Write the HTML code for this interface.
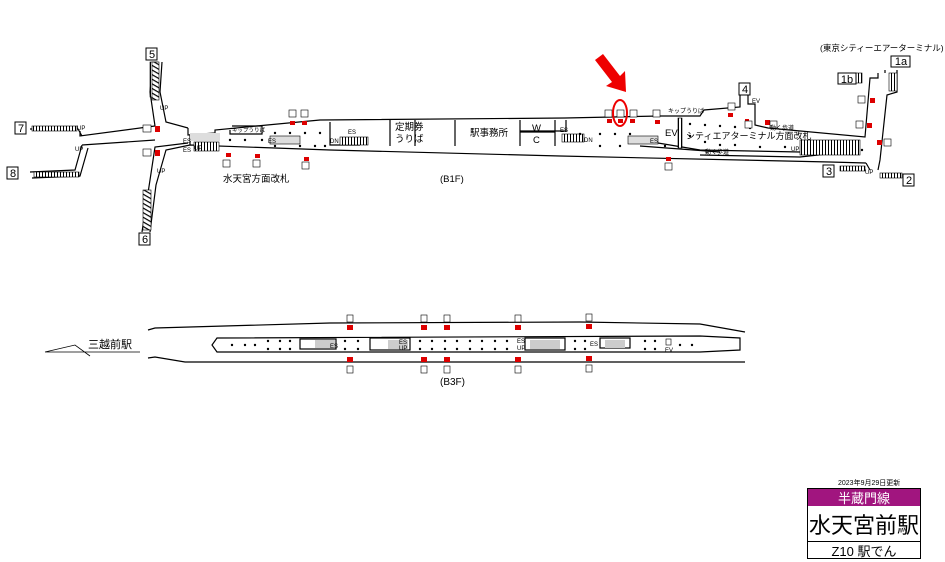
<!DOCTYPE html>
<html><head><meta charset="utf-8"><style>
html,body{margin:0;padding:0;background:#fff;width:945px;height:562px;overflow:hidden}
svg{display:block}
text{font-family:"Liberation Sans","Noto Sans CJK JP",sans-serif;fill:#000}
</style></head><body>
<svg width="945" height="562" viewBox="0 0 945 562" xmlns="http://www.w3.org/2000/svg">
<defs>
<pattern id="st" width="3" height="6" patternUnits="userSpaceOnUse"><rect width="3" height="6" fill="#fff"/><rect width="1" height="6" fill="#000"/></pattern>
<pattern id="sd" width="4" height="4" patternUnits="userSpaceOnUse" patternTransform="rotate(30)"><rect width="4" height="4" fill="#fff"/><rect width="4" height="1.2" fill="#000"/></pattern>
</defs>
<g fill="none" stroke="#000" stroke-width="1.2">
<!-- B1F west area -->
<path d="M80,131 L80,136 L155,126"/>
<path d="M155,126 L150,92 L153,62"/>
<path d="M162,62 L160,92 L166,122 L188,128"/>
<path d="M188,128 L188,135 L215,133 L215,130 L320,120 L565,118 L660,116 L700,116 L704,110 L740,107 L740,85"/>
<path d="M188,143 L155,147 L150,180 L142,232"/>
<path d="M150,232 L156,185 L166,150 L190,145 L330,150 L560,156 L830,162 L866,163"/>
<path d="M82,145 L155,140"/>
<path d="M82,145 L75,170 L30,172"/>
<path d="M30,129 L78,129 L82,136"/>
<path d="M32,178 L80,176 L88,148"/>
<!-- right side -->
<path d="M748,85 L748,104 L755,104 L755,125 L768,128 L865,137 L870,78 L878,78 L878,73"/>
<path d="M866,163 L870,170"/>
<path d="M878,170 L880,160 L887,95 L897,92 L897,70"/>
<path d="M885,70 L885,73"/>
<path d="M566,120 L566,131 L520,131"/>
<path d="M390,120 L390,146 M415,120 L415,146 M455,120 L455,146 M520,120 L520,146 M555,120 L555,146"/>
<path d="M520,132 L555,132"/>
<path d="M330,122 L330,145 L360,145"/>
<path d="M190,135 L190,145"/>
<path d="M230,130 L230,134 L262,134 L262,126 M232,126 L262,126 L262,134"/>
<path d="M640,140 L700,150 L800,152 L830,150"/>
<path d="M640,146 L720,152"/>
<path d="M700,155 L800,157 L845,152"/>
</g>
<!-- stairs -->
<g stroke="#000" stroke-width="0.6">
<rect x="150" y="62" width="8" height="35" fill="url(#st)" transform="rotate(90 154 79.5) rotate(-90 154 79.5)"/>
<rect x="152" y="62" width="7" height="38" fill="url(#sd)"/>
<rect x="143" y="190" width="8" height="40" fill="url(#sd)"/>
<rect x="32" y="126" width="45" height="5" fill="url(#st)"/>
<rect x="34" y="172" width="45" height="5" fill="url(#st)"/>
<rect x="194" y="142" width="25" height="9" fill="url(#st)"/>
<rect x="190" y="133" width="30" height="8" fill="#ddd" stroke="none"/>
<rect x="270" y="136" width="30" height="8" fill="#ddd"/>
<rect x="340" y="137" width="28" height="8" fill="url(#st)"/>
<rect x="562" y="134" width="22" height="8" fill="url(#st)"/>
<rect x="628" y="136" width="30" height="8" fill="#ddd"/>
<rect x="800" y="140" width="60" height="15" fill="url(#st)"/>
<rect x="840" y="166" width="25" height="5" fill="url(#st)"/>
<rect x="880" y="173" width="22" height="5" fill="url(#st)"/>
<rect x="856" y="73" width="6" height="10" fill="url(#st)"/>
<rect x="889" y="73" width="8" height="18" fill="url(#st)"/>
<rect x="678" y="118" width="4" height="30" fill="url(#st)"/>
</g>
<!-- dots -->
<g fill="#000">
<circle cx="230" cy="140" r="1.2"/><circle cx="245" cy="140" r="1.2"/><circle cx="262" cy="140" r="1.2"/>
<circle cx="275" cy="133" r="1.2"/><circle cx="290" cy="133" r="1.2"/><circle cx="305" cy="133" r="1.2"/><circle cx="320" cy="133" r="1.2"/>
<circle cx="275" cy="146" r="1.2"/><circle cx="300" cy="146" r="1.2"/><circle cx="315" cy="146" r="1.2"/><circle cx="325" cy="146" r="1.2"/>
<circle cx="580" cy="134" r="1.2"/><circle cx="600" cy="134" r="1.2"/><circle cx="615" cy="134" r="1.2"/><circle cx="630" cy="134" r="1.2"/>
<circle cx="600" cy="146" r="1.2"/><circle cx="620" cy="146" r="1.2"/><circle cx="665" cy="146" r="1.2"/>
<circle cx="690" cy="124" r="1.2"/><circle cx="705" cy="125" r="1.2"/><circle cx="720" cy="126" r="1.2"/><circle cx="735" cy="127" r="1.2"/><circle cx="750" cy="128" r="1.2"/>
<circle cx="690" cy="136" r="1.2"/><circle cx="705" cy="142" r="1.2"/><circle cx="720" cy="145" r="1.2"/><circle cx="735" cy="145" r="1.2"/><circle cx="760" cy="147" r="1.2"/><circle cx="785" cy="147" r="1.2"/><circle cx="862" cy="150" r="1.2"/>
</g>
<!-- red markers B1F -->
<g fill="#d00">
<rect x="155" y="126" width="5" height="6"/><rect x="155" y="150" width="5" height="6"/>
<rect x="290" y="121" width="5" height="4"/><rect x="302" y="121" width="5" height="4"/>
<rect x="226" y="153" width="5" height="4"/><rect x="255" y="154" width="5" height="4"/><rect x="304" y="157" width="5" height="4"/>
<rect x="607" y="119" width="5" height="4"/><rect x="618" y="119" width="5" height="4"/><rect x="630" y="119" width="5" height="4"/><rect x="655" y="120" width="5" height="4"/>
<rect x="728" y="113" width="5" height="4"/><rect x="666" y="157" width="5" height="4"/>
<rect x="745" y="119" width="4" height="4"/><rect x="765" y="120" width="5" height="5"/>
<rect x="870" y="98" width="5" height="5"/><rect x="867" y="123" width="5" height="5"/><rect x="877" y="140" width="5" height="5"/>
</g>
<!-- small number boxes -->
<g fill="#fff" stroke="#000" stroke-width="0.6">
<rect x="143" y="125" width="8" height="7"/><rect x="143" y="149" width="8" height="7"/>
<rect x="289" y="110" width="7" height="7"/><rect x="301" y="110" width="7" height="7"/>
<rect x="223" y="160" width="7" height="7"/><rect x="253" y="160" width="7" height="7"/><rect x="302" y="162" width="7" height="7"/>
<rect x="605" y="110" width="7" height="7"/><rect x="617" y="110" width="7" height="7"/><rect x="630" y="110" width="7" height="7"/><rect x="653" y="110" width="7" height="7"/>
<rect x="728" y="103" width="7" height="7"/><rect x="665" y="163" width="7" height="7"/><rect x="745" y="121" width="7" height="7"/><rect x="770" y="121" width="7" height="7"/>
<rect x="858" y="96" width="7" height="7"/><rect x="856" y="121" width="7" height="7"/><rect x="884" y="139" width="7" height="7"/>
</g>
<!-- big exit labels -->
<g fill="#fff" stroke="#000" stroke-width="1">
<rect x="146" y="48" width="11" height="12"/><rect x="15" y="122" width="11" height="12"/><rect x="7" y="167" width="11" height="12"/><rect x="139" y="233" width="11" height="12"/>
<rect x="739" y="83" width="11" height="12"/><rect x="823" y="165" width="11" height="12"/><rect x="903" y="174" width="11" height="12"/>
<rect x="838" y="73" width="18" height="11"/><rect x="891" y="56" width="19" height="11"/>
</g>
<g font-size="11" text-anchor="middle">
<text x="152" y="58">5</text><text x="21" y="132">7</text><text x="13" y="177">8</text><text x="145" y="243">6</text>
<text x="745" y="93">4</text><text x="829" y="175">3</text><text x="909" y="184">2</text>
<text x="847" y="83">1b</text><text x="901" y="65">1a</text>
</g>
<g font-size="6">
<text x="183" y="143">ES</text><text x="183" y="152">ES</text><text x="194" y="150">UP</text>
<text x="268" y="143">ES</text><text x="348" y="134">ES</text><text x="330" y="143">DN</text>
<text x="75" y="151">UP</text><text x="77" y="130">UP</text><text x="160" y="110">UP</text><text x="157" y="173">UP</text>
<text x="560" y="132">ES</text><text x="584" y="142">DN</text><text x="650" y="143">ES</text>
<text x="791" y="151">UP</text><text x="865" y="174">UP</text>
<text x="770" y="130">動く歩道</text><text x="705" y="154">動く歩道</text>
<text x="232" y="132" font-size="5.5">キップうりば</text><text x="668" y="113" font-size="6">キップうりば</text>
<text x="752" y="103">EV</text>
</g>
<g font-size="9.5">
<text x="395" y="130">定期券</text><text x="395" y="142">うりば</text>
<text x="470" y="136">駅事務所</text>
<text x="532" y="131">W</text><text x="533" y="143">C</text>
<text x="665" y="136">EV</text>
<text x="686" y="139" font-size="9">シティエアターミナル方面改札</text>
<text x="223" y="182">水天宮方面改札</text>
<text x="440" y="182">(B1F)</text>
<text x="820" y="51" font-size="8.5">(東京シティーエアーターミナル)</text>
</g>
<!-- red arrow & circle -->
<polygon points="595,60 603,54 620,76 625,71 626,92 606,86 612,82" fill="#e00"/>
<ellipse cx="620" cy="113" rx="7" ry="13" fill="none" stroke="#e00" stroke-width="2"/>

<!-- B3F -->
<g fill="none" stroke="#000" stroke-width="1.2">
<path d="M148,330 L155,328 L330,323 L580,322 L700,324 L745,332"/>
<path d="M148,358 L155,357 L185,362 L745,362"/>
<path d="M217,338 L700,336 L740,338 L740,350 L700,352 L217,352 L212,345 Z"/>
<path d="M45,352 L75,345 L90,356 M45,352 L140,352" stroke-width="0.8"/>
<rect x="300" y="339" width="36" height="10"/>
<rect x="370" y="338" width="40" height="12"/>
<rect x="525" y="338" width="40" height="12"/>
<rect x="600" y="338" width="30" height="10"/>
</g>
<g fill="#ccc"><rect x="315" y="340" width="20" height="8"/><rect x="388" y="340" width="20" height="9"/><rect x="530" y="340" width="30" height="9"/><rect x="605" y="340" width="20" height="8"/></g>
<g fill="#000">
<circle cx="232" cy="345" r="1.2"/><circle cx="245" cy="345" r="1.2"/><circle cx="255" cy="345" r="1.2"/>
<circle cx="268" cy="341" r="1.2"/><circle cx="280" cy="341" r="1.2"/><circle cx="290" cy="341" r="1.2"/><circle cx="268" cy="349" r="1.2"/><circle cx="280" cy="349" r="1.2"/><circle cx="290" cy="349" r="1.2"/>
<circle cx="345" cy="341" r="1.2"/><circle cx="358" cy="341" r="1.2"/><circle cx="345" cy="349" r="1.2"/><circle cx="358" cy="349" r="1.2"/>
<circle cx="420" cy="341" r="1.2"/><circle cx="432" cy="341" r="1.2"/><circle cx="445" cy="341" r="1.2"/><circle cx="457" cy="341" r="1.2"/><circle cx="470" cy="341" r="1.2"/><circle cx="482" cy="341" r="1.2"/><circle cx="495" cy="341" r="1.2"/><circle cx="507" cy="341" r="1.2"/>
<circle cx="420" cy="349" r="1.2"/><circle cx="432" cy="349" r="1.2"/><circle cx="445" cy="349" r="1.2"/><circle cx="457" cy="349" r="1.2"/><circle cx="470" cy="349" r="1.2"/><circle cx="482" cy="349" r="1.2"/><circle cx="495" cy="349" r="1.2"/><circle cx="507" cy="349" r="1.2"/>
<circle cx="575" cy="341" r="1.2"/><circle cx="585" cy="341" r="1.2"/><circle cx="575" cy="349" r="1.2"/><circle cx="585" cy="349" r="1.2"/>
<circle cx="645" cy="341" r="1.2"/><circle cx="655" cy="341" r="1.2"/><circle cx="645" cy="349" r="1.2"/><circle cx="655" cy="349" r="1.2"/><circle cx="680" cy="345" r="1.2"/><circle cx="692" cy="345" r="1.2"/>
</g>
<g fill="#d00">
<rect x="347" y="325" width="6" height="5"/><rect x="421" y="325" width="6" height="5"/><rect x="444" y="325" width="6" height="5"/><rect x="515" y="325" width="6" height="5"/><rect x="586" y="324" width="6" height="5"/>
<rect x="347" y="357" width="6" height="5"/><rect x="421" y="357" width="6" height="5"/><rect x="444" y="357" width="6" height="5"/><rect x="515" y="357" width="6" height="5"/><rect x="586" y="356" width="6" height="5"/>
</g>
<g fill="#fff" stroke="#000" stroke-width="0.6">
<rect x="347" y="315" width="6" height="7"/><rect x="421" y="315" width="6" height="7"/><rect x="444" y="315" width="6" height="7"/><rect x="515" y="315" width="6" height="7"/><rect x="586" y="314" width="6" height="7"/>
<rect x="347" y="366" width="6" height="7"/><rect x="421" y="366" width="6" height="7"/><rect x="444" y="366" width="6" height="7"/><rect x="515" y="366" width="6" height="7"/><rect x="586" y="365" width="6" height="7"/>
<rect x="666" y="339" width="5" height="6"/>
</g>
<g font-size="6">
<text x="330" y="348">ES</text><text x="399" y="344">ES</text><text x="399" y="350">UP</text>
<text x="517" y="343">ES</text><text x="517" y="350">UP</text><text x="590" y="346">ES</text><text x="665" y="352">EV</text>
</g>
<text x="88" y="348" font-size="11">三越前駅</text>
<text x="440" y="385" font-size="10">(B3F)</text>

<!-- title box -->
<text x="838" y="485" font-size="7">2023年9月29日更新</text>
<rect x="807.5" y="488.5" width="113" height="70" fill="#fff" stroke="#000"/>
<rect x="808" y="489" width="112" height="17" fill="#a1157f"/>
<line x1="808" y1="541.5" x2="920" y2="541.5" stroke="#000"/>
<text x="864" y="503" font-size="13" text-anchor="middle" style="fill:#fff">半蔵門線</text>
<text x="864" y="533" font-size="22" text-anchor="middle">水天宮前駅</text>
<text x="864" y="556" font-size="13" text-anchor="middle">Z10 駅でん</text>
</svg>
</body></html>
